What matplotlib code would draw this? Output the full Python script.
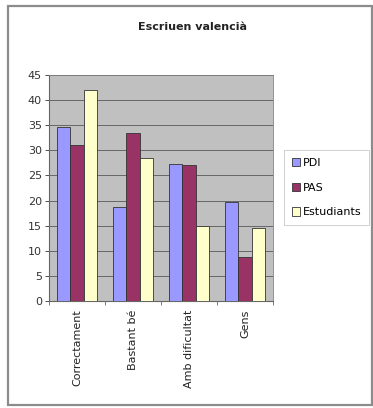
import matplotlib
matplotlib.use("Agg")
import matplotlib.pyplot as plt
import numpy as np
from matplotlib.patches import Rectangle

categories = ["Correctament", "Bastant bé", "Amb dificultat", "Gens"]
series_names = ["PDI", "PAS", "Estudiants"]
pdi = [34.7, 18.7, 27.3, 19.8]
pas = [31.0, 33.4, 27.0, 8.8]
estudiants = [42.0, 28.5, 14.9, 14.5]
colors = ["#9999FF", "#993366", "#FFFFCC"]
yticks = [0, 5, 10, 15, 20, 25, 30, 35, 40, 45]

plt.rcParams["font.family"] = ["DejaVu Sans"]

W, H = 373, 408
fig = plt.figure(figsize=(W / 100, H / 100), dpi=100)

# outer chart frame
fig.patches.append(Rectangle((8 / W, 3 / H), 364 / W, 399 / H, transform=fig.transFigure,
                             fill=False, edgecolor="#8c8c8c", linewidth=1.6))

ax = fig.add_axes([49 / W, 1 - 301 / H, 224 / W, 226 / H])
ax.set_facecolor("#C0C0C0")

x = np.arange(len(categories))
bw = 0.235
for i, (vals, c, name) in enumerate(zip([pdi, pas, estudiants], colors, series_names)):
    ax.bar(x + (i - 1) * bw, vals, width=bw, color=c, edgecolor="#333333",
           linewidth=0.6, label=name, zorder=3)

ax.set_xlim(-0.5, len(categories) - 0.5)
ax.set_ylim(0, 45)
ax.set_yticks(yticks)
ax.yaxis.grid(True, color="#444444", linewidth=0.5, zorder=0)
ax.set_axisbelow(True)
for s in ["top", "right"]:
    ax.spines[s].set_color("#808080")
    ax.spines[s].set_linewidth(0.6)
for s in ["left", "bottom"]:
    ax.spines[s].set_color("#666666")
    ax.spines[s].set_linewidth(0.8)
ax.tick_params(axis="y", labelsize=8, length=3, width=0.6, colors="#333333", pad=2)
ax.set_xticks(x)
ax.set_xticklabels(categories, rotation=90, fontsize=8, color="#222222")
ax.tick_params(axis="x", length=0, pad=6)
ax.set_xticks(np.arange(len(categories) + 1) - 0.5, minor=True)
ax.tick_params(axis="x", which="minor", length=3, width=0.6, color="#666666")

fig.text(193 / W, 1 - 27 / H, "Escriuen valencià", ha="center", va="center",
         fontsize=8, fontweight="bold", color="#222222")

leg = fig.legend(loc="upper left", bbox_to_anchor=(284 / W, 1 - 150 / H),
                 fontsize=8, frameon=True, fancybox=False, handlelength=0.75,
                 handleheight=0.75, handletextpad=0.25, borderpad=0.7, labelspacing=1.33,
                 borderaxespad=0)
leg.get_frame().set_edgecolor("#bbbbbb")
leg.get_frame().set_linewidth(0.6)

fig.savefig("out.png", dpi=100)
